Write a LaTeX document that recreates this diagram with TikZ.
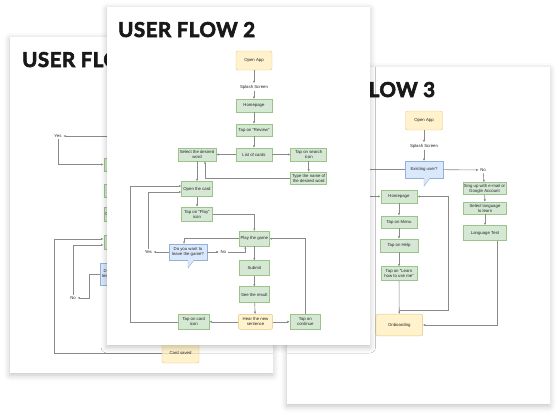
\documentclass[tikz,border=0pt]{standalone}
\usepackage{fontspec}
\setmainfont{Liberation Sans}
\newfontfamily\titlefont{Lato}[BoldFeatures={FakeBold=3}, LetterSpace=2.5]
\usetikzlibrary{arrows.meta,shadows.blur}

\definecolor{greenfill}{HTML}{D5E8D4}
\definecolor{greenline}{HTML}{9CC48A}
\definecolor{yellowfill}{HTML}{FFF2CC}
\definecolor{yellowline}{HTML}{E3C97A}
\definecolor{bluefill}{HTML}{DAE8FC}
\definecolor{blueline}{HTML}{95B0D6}
\definecolor{linegray}{HTML}{8A8A8A}

\begin{document}
\begin{tikzpicture}[x=1pt,y=-1pt,
    every node/.style={font=\fontsize{4.3}{5}\selectfont, align=center, inner sep=0pt, text=black!85},
    page/.style={fill=white, blur shadow={shadow xshift=0pt, shadow yshift=-2pt, shadow blur radius=6pt, shadow opacity=25}},
    title/.style={anchor=base west, font=\titlefont\bfseries\fontsize{20.5}{20.5}\selectfont, text=black!90},
    label/.style={inner sep=1.5pt},
    box/.style={rectangle, fill=greenfill, draw=greenline, line width=0.45pt, minimum width=36.5pt, minimum height=13pt},
    soft/.style={box, fill=yellowfill, draw=yellowline, rounded corners=2pt},
    ask/.style={box, fill=bluefill, draw=blueline, minimum width=37.7pt, minimum height=16pt},
    flow/.style={draw=linegray, line width=0.6pt, -{Latex[length=2.4pt,width=2.2pt]}}]
    \useasboundingbox (0,0) rectangle (560,418);

    % user flow 1 (back)
    \path[page] (10,37) rectangle (272.5,373);
    \node[title] (T1) at (22,67) {USER FLOW 1};

    \coordinate (Q1) at (140,136);
    \node[label]              (Yes1)   at (58,136)    {Yes};
    \node[box]                (Home1)  at (122,164.5) {};
    \node[box]                (B1)     at (122,190.5) {};
    \node[box, minimum width=30pt, minimum height=14pt] (Card1) at (119,214) {Open the card};
    \node[box, minimum height=14pt] (N4) at (122,242) {};
    \node[ask, minimum width=36pt, minimum height=22pt] (Leave1) at (118,274) {Do you want to\\leave the game?};
    \node[label]              (No1)    at (73,298)    {No};
    \node[soft, minimum width=37pt, minimum height=20pt] (Saved1) at (180.5,353) {Card saved};

    \draw[flow] (Q1) -- (Yes1.east);
    \draw[flow] (Yes1.south) |- (Home1.west);
    \draw[flow] (Leave1.west) -- ++(-10,0) |- (No1.east);
    \draw[flow] (No1.north) |- ([yshift=-3pt]N4.west);
    \draw[flow] (Saved1.west) -- ++(-107.5,0) |- ([yshift=3pt]N4.west);

    % user flow 3
    \path[page] (287,67) rectangle (549.5,404);
    \node[title] (T3) at (298,97) {USER FLOW 3};

    \node[soft, minimum width=37pt, minimum height=19pt] (Open3) at (424,120.5) {Open App};
    \node[label]  (Splash3) at (424,146)   {Splash Screen};
    \node[ask, minimum height=16.7pt] (Exist3) at (424,169.5) {Existing user?};
    \fill[bluefill] ([yshift=0.6pt]Exist3.south) rectangle ([xshift=6pt,yshift=-0.5pt]Exist3.south);
    \filldraw[fill=bluefill, draw=blueline, line width=0.45pt] ([xshift=6pt]Exist3.south) -- ([yshift=-8pt]Exist3.south) -- (Exist3.south);
    \node[label]  (No3)     at (483,170)   {No};
    \node[box, minimum width=43pt, minimum height=12pt] (Sign3) at (484.5,188.5) {Sing up with e-mail or\\Google Account};
    \node[box, minimum width=43pt, minimum height=12pt] (Lang3) at (485,208)   {Select language\\to learn};
    \node[box, minimum width=43pt, minimum height=15pt] (Test3) at (485,233)   {Language Test};
    \node[box]                        (Home3)  at (399,196.5) {Homepage};
    \node[box, minimum height=12.5pt] (Menu3)  at (399,222)   {Tap on Menu};
    \node[box, minimum width=38pt]    (Help3)  at (399,245.5) {Tap on Help};
    \node[box, minimum height=14pt]   (Learn3) at (399,273.7) {Tap on “Learn\\how to use me”};
    \node[soft, minimum width=46.7pt, minimum height=21.7pt] (Onb3) at (399.3,325) {Onboarding};

    \path[flow]
    (Open3)   edge (Splash3)
    (Splash3) edge (Exist3)
    (Exist3)  edge (No3)
    (No3)     edge (Sign3)
    (Sign3)   edge (Lang3)
    (Lang3)   edge (Test3)
    (Home3)   edge (Menu3)
    (Menu3)   edge (Help3)
    (Help3)   edge (Learn3)
    (Learn3)  edge (Onb3);
    \draw[flow] (Exist3.west) -- ++(-50,0) |- (Home3.west);
    \draw[flow] ([xshift=12pt]Test3.south) |- (Onb3.east);
    \draw[flow] ([yshift=4pt]Onb3.north) -- ++(48.7,0) |- (Home3.east);

    % user flow 2 (front)
    \path[page] (107,7) rectangle (369.5,345);
    \node[title] (T2) at (118,37) {USER FLOW 2};

    \node[soft, minimum width=36pt, minimum height=19pt] (Open2) at (254,60.5) {Open App};
    \node[label]  (Splash2) at (254,87)    {Splash Screen};
    \node[box]    (Home2)   at (254,105.7) {Homepage};
    \node[box, minimum height=12pt] (Review2) at (254,130) {Tap on “Review”};
    \node[box]    (List2)   at (254,154.5) {List of cards};
    \node[box, minimum width=38pt]  (Select2) at (197,154.5) {Select the desired\\word};
    \node[box, minimum width=36pt]  (Search2) at (308.7,154.5) {Tap on search\\icon};
    \node[box, minimum width=36pt, minimum height=12pt] (Type2) at (308.7,178) {Type the name of\\the desired word};
    \node[box, minimum width=30.7pt, minimum height=15pt] (Card2) at (197,189) {Open the card};
    \node[box, minimum width=30.7pt, minimum height=14pt] (Play2) at (197,214) {Tap on “Play”\\icon};
    \node[box, minimum width=30pt, minimum height=14.7pt] (Game2) at (254.3,238.7) {Play the game};
    \node[ask, minimum height=15.7pt] (Leave2) at (188,252) {Do you want to\\leave the game?};
    \fill[bluefill] ([yshift=0.6pt]Leave2.south) rectangle ([xshift=6pt,yshift=-0.5pt]Leave2.south);
    \filldraw[fill=bluefill, draw=blueline, line width=0.45pt] ([xshift=6pt]Leave2.south) -- ([yshift=-8pt]Leave2.south) -- (Leave2.south);
    \node[label]  (Yes2)    at (148.3,252) {Yes};
    \node[label]  (No2)     at (223.3,252) {No};
    \node[box, minimum width=30pt, minimum height=15pt]   (Submit2) at (254.3,268.2) {Submit};
    \node[box, minimum width=30pt, minimum height=15.6pt] (Result2) at (254.3,294.5) {See the result};
    \node[soft, minimum width=34.3pt, minimum height=15pt] (Hear2) at (255.5,321.8) {Hear the new\\sentence};
    \node[box, minimum width=31pt, minimum height=15pt]   (Icon2) at (193.8,321.8) {Tap on card\\icon};
    \node[box, minimum width=30.7pt, minimum height=15pt] (Cont2) at (305.3,321.8) {Tap on\\continue};

    \path[flow]
    (Open2)   edge (Splash2)
    (Splash2) edge (Home2)
    (Home2)   edge (Review2)
    (Review2) edge (List2)
    (List2)   edge (Select2)
    (List2)   edge (Search2)
    (Search2) edge (Type2)
    (Select2) edge (Card2)
    (Card2)   edge (Play2)
    (Leave2)  edge (Yes2)
    (Leave2)  edge (No2)
    (Game2)   edge (Submit2)
    (Submit2) edge (Result2)
    (Result2) edge (Hear2)
    (Hear2)   edge (Icon2)
    (Hear2)   edge (Cont2);
    \draw[flow] (Type2.west) -| ([xshift=8pt]Select2.south);
    \draw[flow] (Icon2.west) -- ++(-48,0) |- ([yshift=3pt]Card2.west);
    \draw[flow] (Yes2.north) |- ([yshift=-3pt]Card2.west);
    \draw[flow] (Play2.east) -| (Game2.north);
    \draw[flow] (Game2.west) -| ([xshift=-4pt]Leave2.north);
    \draw[flow] (No2.east) -| ([xshift=-9pt]Game2.south);
    \draw[flow] (Cont2.north) |- (Game2.east);
\end{tikzpicture}
\end{document}
